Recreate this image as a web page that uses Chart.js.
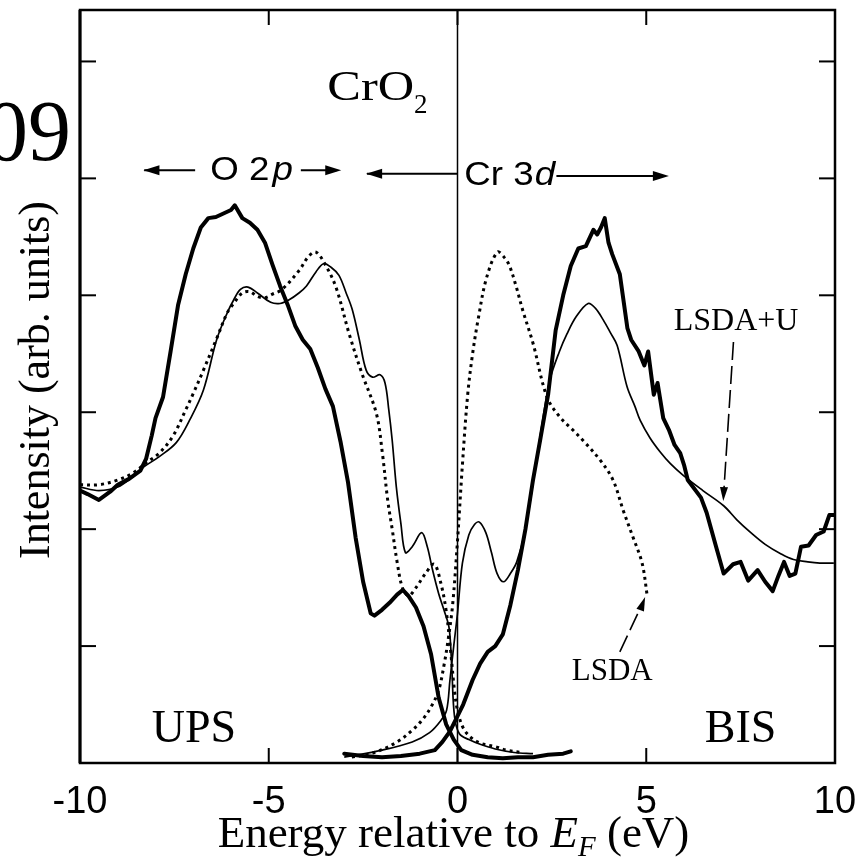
<!DOCTYPE html>
<html>
<head>
<meta charset="utf-8">
<title>CrO2 UPS / BIS</title>
<script src="https://cdn.jsdelivr.net/npm/chart.js@4.4.1/dist/chart.umd.min.js"></script>
<style>
  html, body { margin: 0; padding: 0; background: #fff; }
  #wrap { width: 861px; height: 859px; position: relative; overflow: hidden; }
</style>
</head>
<body>
<div id="wrap"><canvas id="spectra"></canvas></div>
<script>
// [energy (eV, relative to E_F), intensity (arb. units, one unit per y tick)]
const upsSpectrum = [
  [-10, 2.33], [-9.8, 2.30], [-9.5, 2.25], [-9.2, 2.32], [-9.0, 2.38], [-8.7, 2.43],
  [-8.4, 2.50], [-8.25, 2.60], [-8.1, 2.80], [-8.0, 2.95], [-7.8, 3.13], [-7.6, 3.52],
  [-7.4, 3.92], [-7.2, 4.18], [-7.0, 4.40], [-6.8, 4.58], [-6.6, 4.66], [-6.4, 4.67],
  [-6.2, 4.70], [-6.0, 4.73], [-5.9, 4.77], [-5.7, 4.66], [-5.5, 4.62], [-5.3, 4.56],
  [-5.1, 4.45], [-4.9, 4.26], [-4.7, 4.08], [-4.5, 3.92], [-4.3, 3.74], [-4.1, 3.62],
  [-3.9, 3.54], [-3.7, 3.38], [-3.5, 3.20], [-3.3, 3.05], [-3.1, 2.75], [-2.9, 2.40],
  [-2.7, 1.93], [-2.5, 1.55], [-2.3, 1.28], [-2.2, 1.26], [-2.0, 1.31], [-1.8, 1.37],
  [-1.6, 1.44], [-1.45, 1.48], [-1.3, 1.43], [-1.1, 1.33], [-0.9, 1.17], [-0.7, 0.93],
  [-0.5, 0.56], [-0.3, 0.33], [-0.1, 0.20], [0.1, 0.11], [0.4, 0.07], [0.8, 0.05],
  [1.2, 0.04], [1.6, 0.05], [2.0, 0.05], [2.4, 0.07], [2.8, 0.08], [3.0, 0.10]
];
const bisSpectrum = [
  [-3.0, 0.08], [-2.5, 0.06], [-2.0, 0.05], [-1.5, 0.06], [-1.0, 0.08], [-0.6, 0.11],
  [-0.4, 0.18], [-0.2, 0.27], [0.0, 0.40], [0.15, 0.50], [0.4, 0.71], [0.6, 0.85],
  [0.8, 0.95], [1.0, 1.00], [1.2, 1.10], [1.4, 1.35], [1.6, 1.65], [1.8, 2.00],
  [2.0, 2.42], [2.2, 2.78], [2.4, 3.15], [2.6, 3.70], [2.8, 4.00], [3.0, 4.25],
  [3.2, 4.40], [3.4, 4.42], [3.6, 4.56], [3.7, 4.52], [3.8, 4.58], [3.9, 4.66],
  [4.0, 4.45], [4.1, 4.35], [4.3, 4.18], [4.5, 3.72], [4.6, 3.62], [4.8, 3.52],
  [4.95, 3.40], [5.05, 3.52], [5.2, 3.15], [5.3, 3.25], [5.45, 2.95], [5.6, 2.85],
  [5.75, 2.72], [5.9, 2.65], [6.0, 2.55], [6.1, 2.42], [6.45, 2.27], [6.6, 2.14],
  [6.85, 1.85], [7.05, 1.62], [7.3, 1.70], [7.5, 1.72], [7.7, 1.56], [7.95, 1.65],
  [8.15, 1.55], [8.35, 1.47], [8.5, 1.60], [8.65, 1.72], [8.8, 1.60], [8.95, 1.62],
  [9.1, 1.85], [9.3, 1.86], [9.5, 1.95], [9.7, 1.98], [9.85, 2.12], [10.0, 2.12]
];
// broadened LSDA DOS, occupied and unoccupied parts
const lsdaOccupied = [
  [-10, 2.38], [-9.5, 2.38], [-9.0, 2.42], [-8.6, 2.48], [-8.24, 2.57], [-7.9, 2.65],
  [-7.53, 2.80], [-7.2, 3.02], [-7.0, 3.16], [-6.73, 3.36], [-6.38, 3.63], [-6.1, 3.85],
  [-5.93, 3.93], [-5.7, 4.02], [-5.5, 4.03], [-5.3, 3.99], [-5.1, 3.98], [-4.9, 4.01],
  [-4.65, 4.05], [-4.2, 4.21], [-3.95, 4.33], [-3.75, 4.37], [-3.5, 4.26], [-3.22, 4.07],
  [-2.87, 3.67], [-2.53, 3.33], [-2.15, 2.99], [-1.99, 2.65], [-1.85, 2.25], [-1.73, 2.00],
  [-1.6, 1.72], [-1.46, 1.50], [-1.3, 1.43], [-1.1, 1.50], [-0.85, 1.62], [-0.62, 1.70],
  [-0.45, 1.55], [-0.3, 1.30], [-0.18, 0.95], [-0.08, 0.62], [0.0, 0.45], [0.15, 0.30],
  [0.35, 0.22], [0.6, 0.17], [1.0, 0.14], [1.3, 0.11], [1.7, 0.09]
];
const lsdaEmpty = [
  [-2.8, 0.05], [-2.2, 0.09], [-1.6, 0.18], [-1.2, 0.28], [-0.93, 0.37], [-0.7, 0.48],
  [-0.5, 0.62], [-0.35, 0.85], [-0.25, 1.05], [-0.13, 1.35], [0.0, 1.90], [0.13, 2.55],
  [0.27, 3.15], [0.4, 3.50], [0.55, 3.80], [0.77, 4.15], [1.06, 4.37], [1.25, 4.32],
  [1.38, 4.25], [1.55, 4.08], [1.73, 3.87], [2.0, 3.59], [2.37, 3.13], [2.71, 2.96],
  [3.05, 2.85], [3.32, 2.76], [3.78, 2.59], [4.12, 2.42], [4.39, 2.16], [4.65, 1.93],
  [4.89, 1.71], [5.03, 1.42]
];
// broadened LSDA+U DOS, occupied and unoccupied parts
const ldauOccupied = [
  [-10, 2.36], [-9.5, 2.33], [-9.0, 2.36], [-8.6, 2.45], [-8.32, 2.53], [-7.9, 2.62],
  [-7.45, 2.74], [-7.1, 2.93], [-6.73, 3.19], [-6.38, 3.62], [-6.1, 3.85], [-5.93, 3.96],
  [-5.75, 4.05], [-5.55, 4.07], [-5.3, 4.02], [-4.95, 3.94], [-4.7, 3.93], [-4.47, 3.96],
  [-4.2, 4.02], [-4.0, 4.08], [-3.75, 4.20], [-3.55, 4.27], [-3.35, 4.24], [-3.14, 4.17],
  [-2.95, 4.02], [-2.79, 3.88], [-2.6, 3.62], [-2.42, 3.36], [-2.25, 3.30], [-2.05, 3.32],
  [-1.92, 3.25], [-1.82, 3.02], [-1.73, 2.76], [-1.62, 2.36], [-1.5, 2.05], [-1.38, 1.80],
  [-1.2, 1.85], [-0.95, 1.97], [-0.8, 1.85], [-0.66, 1.65], [-0.5, 1.45], [-0.35, 1.30],
  [-0.22, 1.15], [-0.15, 0.80], [-0.08, 0.40], [0.05, 0.25], [0.3, 0.20], [0.6, 0.16],
  [1.0, 0.12], [1.5, 0.09], [2.0, 0.08]
];
const ldauEmpty = [
  [-3.0, 0.05], [-2.0, 0.11], [-1.2, 0.18], [-0.74, 0.26], [-0.45, 0.36], [-0.29, 0.45],
  [-0.2, 0.71], [-0.1, 1.00], [0.0, 1.28], [0.13, 1.71], [0.3, 1.95], [0.45, 2.04],
  [0.58, 2.06], [0.75, 1.97], [0.9, 1.80], [1.05, 1.62], [1.22, 1.55], [1.4, 1.62],
  [1.57, 1.72], [1.8, 2.00], [2.05, 2.50], [2.25, 2.92], [2.45, 3.28], [2.7, 3.52],
  [2.9, 3.67], [3.15, 3.82], [3.46, 3.93], [3.65, 3.89], [3.86, 3.79], [4.05, 3.68],
  [4.23, 3.57], [4.49, 3.22], [4.7, 3.05], [4.84, 2.93], [5.1, 2.78], [5.37, 2.66],
  [5.64, 2.56], [5.98, 2.46], [6.5, 2.33], [7.05, 2.20], [7.4, 2.08], [7.77, 1.97],
  [8.15, 1.87], [8.56, 1.79], [8.9, 1.74], [9.28, 1.72], [9.6, 1.71], [9.97, 1.71]
];
const xTicks = [-10, -5, 0, 5, 10];
const yTicks = [1, 2, 3, 4, 5, 6];

const SERIF = '"Liberation Serif", "Times New Roman", serif';
const SANS = '"Liberation Sans", Arial, sans-serif';

const toPoints = rows => rows.map(([e, v]) => ({ x: e, y: v }));

function expSet(rows) {
  return { data: toPoints(rows), borderColor: '#000', borderWidth: 4, tension: 0,
           pointRadius: 0, borderJoinStyle: 'round', borderCapStyle: 'round' };
}
function lsdaSet(rows) {
  return { data: toPoints(rows), borderColor: '#000', borderWidth: 3, borderDash: [3, 4],
           tension: 0.35, pointRadius: 0, borderCapStyle: 'butt' };
}
function ldauSet(rows) {
  return { data: toPoints(rows), borderColor: '#000', borderWidth: 1.7, tension: 0.35,
           pointRadius: 0 };
}

function arrowHead(ctx, x0, y0, x1, y1, len, half) {
  const a = Math.atan2(y1 - y0, x1 - x0);
  const c = Math.cos(a), s = Math.sin(a);
  ctx.beginPath();
  ctx.moveTo(x1, y1);
  ctx.lineTo(x1 - len * c + half * s, y1 - len * s - half * c);
  ctx.lineTo(x1 - len * c - half * s, y1 - len * s + half * c);
  ctx.closePath();
  ctx.fill();
}

function segment(ctx, x0, y0, x1, y1) {
  ctx.beginPath();
  ctx.moveTo(x0, y0);
  ctx.lineTo(x1, y1);
  ctx.stroke();
}

// text drawn with a horizontal stretch, left edge at x
function wideText(ctx, text, x, y, sx) {
  ctx.save();
  ctx.translate(x, y);
  ctx.scale(sx, 1);
  ctx.fillText(text, 0, 0);
  const w = ctx.measureText(text).width * sx;
  ctx.restore();
  return w;
}

// frame, inward ticks, E_F marker line, labels and arrows
const decorations = {
  id: 'decorations',
  afterDraw(chart) {
    const { ctx, chartArea: a, scales: { x, y } } = chart;
    const px = v => x.getPixelForValue(v);
    const py = v => y.getPixelForValue(v);
    ctx.save();
    ctx.strokeStyle = '#000';
    ctx.fillStyle = '#000';

    ctx.lineWidth = 1.5;
    segment(ctx, px(0), a.top, px(0), a.bottom);

    ctx.lineWidth = 2.5;
    ctx.strokeRect(a.left, a.top, a.right - a.left, a.bottom - a.top);
    ctx.lineWidth = 3;
    segment(ctx, a.left, a.top, a.left, a.bottom);

    ctx.lineWidth = 2;
    yTicks.forEach(v => {
      segment(ctx, a.left, py(v), a.left + 16, py(v));
      segment(ctx, a.right, py(v), a.right - 16, py(v));
    });
    xTicks.slice(1, -1).forEach(v => {
      segment(ctx, px(v), a.bottom, px(v), a.bottom - 15);
      segment(ctx, px(v), a.top, px(v), a.top + 15);
    });

    // band character arrows
    ctx.lineWidth = 2;
    let yy = py(5.07);
    segment(ctx, px(-8.3), yy, px(-6.95), yy);
    arrowHead(ctx, px(-6.95), yy, px(-8.32), yy, 16, 5);
    segment(ctx, px(-4.15), yy, px(-3.2), yy);
    arrowHead(ctx, px(-4.15), yy, px(-3.08), yy, 16, 5);
    yy = py(5.04);
    segment(ctx, px(-2.4), yy, px(0), yy);
    arrowHead(ctx, px(-1.5), yy, px(-2.42), yy, 16, 5);
    yy = py(5.02);
    segment(ctx, px(2.62), yy, px(5.5), yy);
    arrowHead(ctx, px(2.62), yy, px(5.6), yy, 16, 5);

    ctx.textBaseline = 'middle';
    ctx.textAlign = 'left';
    ctx.font = '34px ' + SANS;
    let w = wideText(ctx, 'O 2', px(-6.55), py(5.07), 1.08);
    ctx.font = 'italic 34px ' + SANS;
    wideText(ctx, 'p', px(-6.55) + w + 3, py(5.07), 1.08);
    ctx.font = '34px ' + SANS;
    w = wideText(ctx, 'Cr 3', px(0.18), py(5.02), 1.08);
    ctx.font = 'italic 34px ' + SANS;
    wideText(ctx, 'd', px(0.18) + w + 1, py(5.02), 1.08);

    // compound and technique labels
    ctx.textBaseline = 'alphabetic';
    ctx.font = '42px ' + SERIF;
    w = wideText(ctx, 'CrO', px(-3.45), py(5.67), 1.2);
    ctx.font = '27px ' + SERIF;
    ctx.fillText('2', px(-3.45) + w, py(5.56));
    ctx.font = '46px ' + SERIF;
    ctx.fillText('UPS', px(-8.1), py(0.18));
    ctx.fillText('BIS', px(6.55), py(0.18));

    ctx.font = '86px ' + SERIF;
    ctx.textAlign = 'right';
    ctx.fillText('09', 71, 160);

    // curve labels with dashed pointers
    ctx.textAlign = 'center';
    ctx.font = '32px ' + SERIF;
    ctx.fillText('LSDA+U', px(7.38), py(3.7));
    ctx.font = '31px ' + SERIF;
    ctx.fillText('LSDA', px(4.1), py(0.71));
    ctx.lineWidth = 1.6;
    ctx.setLineDash([18, 6]);
    segment(ctx, px(7.31), py(3.6), px(7.05), py(2.3));
    segment(ctx, px(4.3), py(0.95), px(4.88), py(1.35));
    ctx.setLineDash([]);
    arrowHead(ctx, px(7.1), py(2.6), px(7.04), py(2.24), 14, 4);
    arrowHead(ctx, px(4.6), py(1.1), px(4.97), py(1.42), 14, 4);

    // axis titles
    ctx.textAlign = 'left';
    const parts = [
      ['Energy relative to ', '45px ' + SERIF, 0],
      ['E', 'italic 45px ' + SERIF, 0],
      ['F', 'italic 29px ' + SERIF, 9],
      [' (eV)', '45px ' + SERIF, 0]
    ];
    let total = 0;
    parts.forEach(p => { ctx.font = p[1]; total += ctx.measureText(p[0]).width; });
    let cx = (a.left + a.right) / 2 - total / 2 - 4;
    parts.forEach(p => {
      ctx.font = p[1];
      ctx.fillText(p[0], cx, 847 + p[2]);
      cx += ctx.measureText(p[0]).width;
    });

    ctx.translate(49, 380);
    ctx.rotate(-Math.PI / 2);
    ctx.textAlign = 'center';
    ctx.font = '44px ' + SERIF;
    ctx.fillText('Intensity (arb. units)', 0, 0);
    ctx.restore();
  }
};

new Chart(document.getElementById('spectra'), {
  type: 'line',
  data: {
    datasets: [
      expSet(upsSpectrum),
      expSet(bisSpectrum),
      lsdaSet(lsdaOccupied),
      lsdaSet(lsdaEmpty),
      ldauSet(ldauOccupied),
      ldauSet(ldauEmpty)
    ]
  },
  options: {
    responsive: true,
    maintainAspectRatio: false,
    animation: false,
    layout: { padding: { top: 10, right: 26, left: 0, bottom: 0 } },
    plugins: { legend: { display: false }, tooltip: { enabled: false } },
    scales: {
      x: {
        type: 'linear',
        min: -10,
        max: 10,
        afterBuildTicks: s => { s.ticks = xTicks.map(v => ({ value: v })); },
        afterFit: s => { s.height = 96; s.paddingLeft = 0; s.paddingRight = 0; },
        ticks: { color: '#000', padding: 9, maxRotation: 0, autoSkip: false,
                 font: { family: SANS, size: 38 } },
        grid: { display: false },
        border: { display: false }
      },
      y: {
        type: 'linear',
        min: 0,
        max: 6.44,
        afterFit: s => { s.width = 80; },
        ticks: { display: false },
        grid: { display: false },
        border: { display: false }
      }
    }
  },
  plugins: [decorations]
});
</script>
</body>
</html>
